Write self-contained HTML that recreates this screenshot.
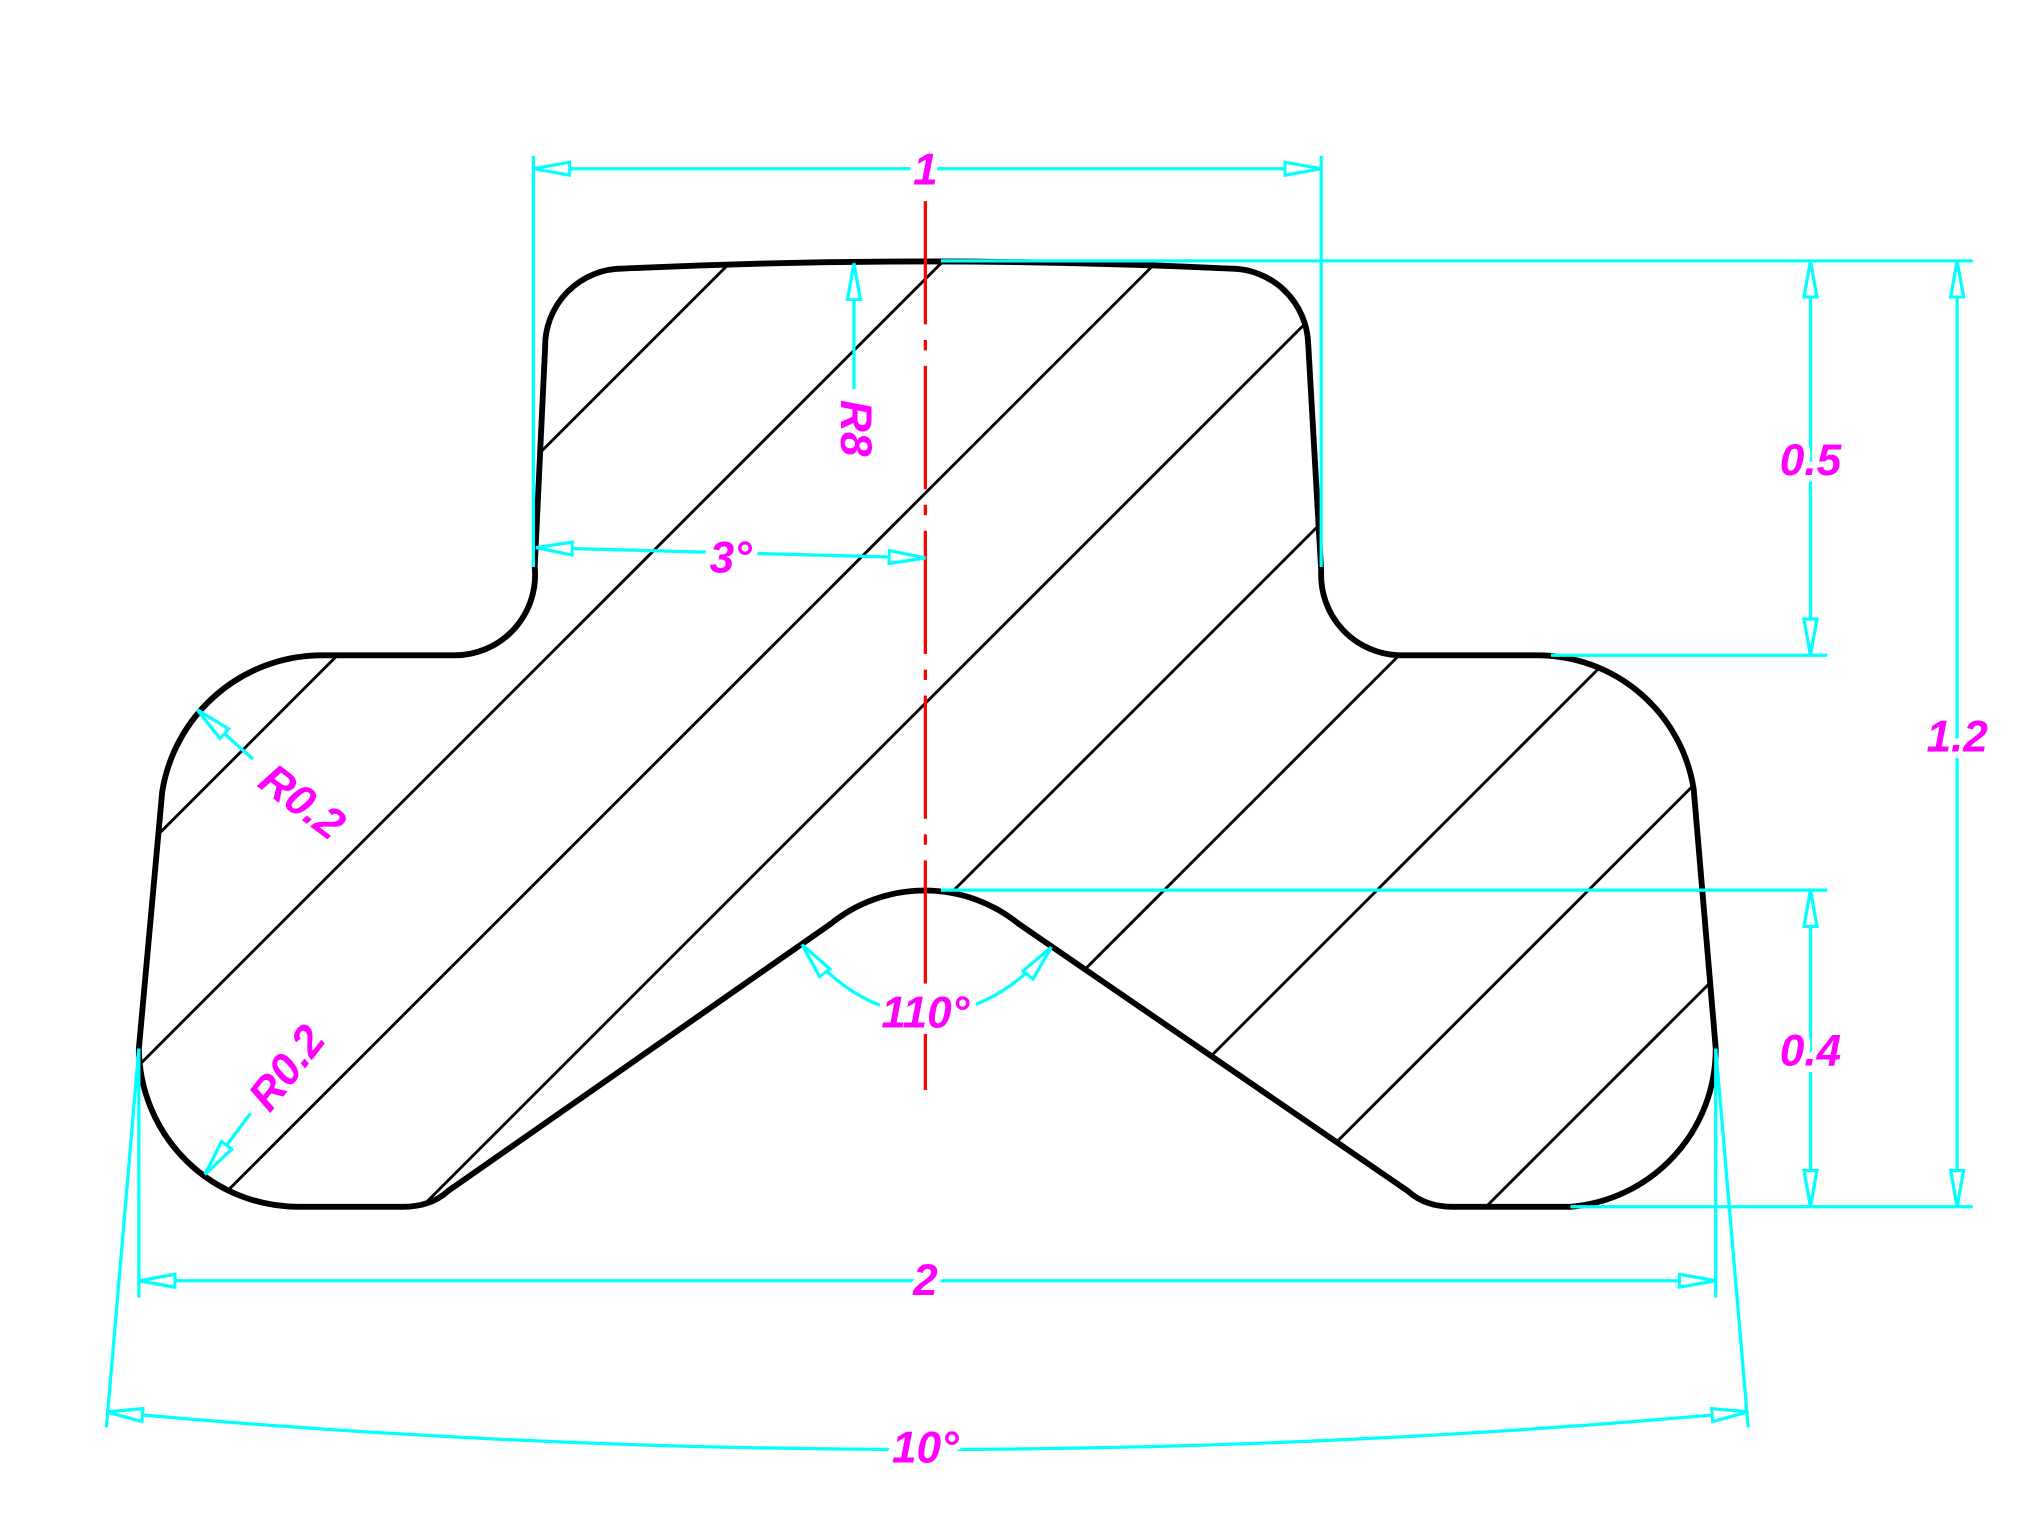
<!DOCTYPE html>
<html><head><meta charset="utf-8"><style>html,body{margin:0;padding:0;background:#fff;overflow:hidden;width:2035px;height:1526px}svg{display:block}</style></head><body>
<svg width="2035" height="1526" viewBox="0 0 1568 1176" preserveAspectRatio="none" xmlns="http://www.w3.org/2000/svg">
<defs>
<marker id="a" markerUnits="userSpaceOnUse" markerWidth="32" markerHeight="16" refX="29" refY="8" orient="auto-start-reverse">
<path d="M29,8 L1,3 L1,13 Z" fill="#fff" stroke="#00ffff" stroke-width="2.5"/>
</marker>
<clipPath id="c"><path d="M480,207 Q713,196 948,207 A60,60 0 0 1 1008,265 L1018,440 A62,62 0 0 0 1078,505 L1185,505 A122,122 0 0 1 1305,608 L1322,808 A122,122 0 0 1 1210,930 L1120,930 Q1098,930 1085,918 L785,712 A115,115 0 0 0 640,712 L345,918 Q332,930 310,930 L230,930 A123,123 0 0 1 107,808 L125,610 A125,125 0 0 1 245,505 L350,505 A62,62 0 0 0 412,437 L420,268 A60,60 0 0 1 480,207 Z"/></clipPath>
</defs>
<g clip-path="url(#c)" stroke="#000" stroke-width="2.2">
<line x1="0" y1="765" x2="765" y2="0"/>
<line x1="0" y1="928" x2="928" y2="0"/>
<line x1="0" y1="1093" x2="1093" y2="0"/>
<line x1="0" y1="1255" x2="1255" y2="0"/>
<line x1="200" y1="1221" x2="1421" y2="0"/>
<line x1="400" y1="1183" x2="1583" y2="0"/>
<line x1="600" y1="1147" x2="1747" y2="0"/>
<line x1="800" y1="1110" x2="1910" y2="0"/>
<line x1="1000" y1="1075" x2="2075" y2="0"/>
</g>
<path d="M480,207 Q713,196 948,207 A60,60 0 0 1 1008,265 L1018,440 A62,62 0 0 0 1078,505 L1185,505 A122,122 0 0 1 1305,608 L1322,808 A122,122 0 0 1 1210,930 L1120,930 Q1098,930 1085,918 L785,712 A115,115 0 0 0 640,712 L345,918 Q332,930 310,930 L230,930 A123,123 0 0 1 107,808 L125,610 A125,125 0 0 1 245,505 L350,505 A62,62 0 0 0 412,437 L420,268 A60,60 0 0 1 480,207 Z" fill="none" stroke="#000" stroke-width="4.5"/>
<line x1="713" y1="155" x2="713" y2="840" stroke="#ff0000" stroke-width="2.5" stroke-dasharray="95 12 8 12"/>
<g stroke="#00ffff" stroke-width="2.5" fill="none">
<line x1="411" y1="120" x2="411" y2="437"/>
<line x1="1018" y1="120" x2="1018" y2="437"/>
<line x1="411" y1="130" x2="1018" y2="130" marker-start="url(#a)" marker-end="url(#a)"/>
<line x1="658" y1="300" x2="658" y2="203" marker-end="url(#a)"/>
<line x1="413" y1="422" x2="713" y2="430" marker-start="url(#a)" marker-end="url(#a)"/>
<line x1="725" y1="201" x2="1520" y2="201"/>
<line x1="1195" y1="505" x2="1408" y2="505"/>
<line x1="1395" y1="201" x2="1395" y2="505" marker-start="url(#a)" marker-end="url(#a)"/>
<line x1="1508" y1="201" x2="1508" y2="930" marker-start="url(#a)" marker-end="url(#a)"/>
<line x1="725" y1="686" x2="1408" y2="686"/>
<line x1="1210" y1="930" x2="1520" y2="930"/>
<line x1="1395" y1="686" x2="1395" y2="930" marker-start="url(#a)" marker-end="url(#a)"/>
<line x1="195" y1="585" x2="152" y2="547" marker-end="url(#a)"/>
<line x1="193" y1="858" x2="158" y2="905" marker-end="url(#a)"/>
<path d="M618,728 Q660,780 713,782 Q768,780 810,730" marker-start="url(#a)" marker-end="url(#a)"/>
<line x1="107" y1="808" x2="107" y2="1000"/>
<line x1="1322" y1="808" x2="1322" y2="1000"/>
<line x1="107" y1="987" x2="1322" y2="987" marker-start="url(#a)" marker-end="url(#a)"/>
<line x1="107" y1="808" x2="82" y2="1100"/>
<line x1="1322" y1="808" x2="1347" y2="1100"/>
<path d="M82,1088 Q713,1146 1347,1088" marker-start="url(#a)" marker-end="url(#a)"/>
</g>
<g font-family="Liberation Sans, sans-serif" font-style="italic" font-weight="bold" font-size="34" fill="#ff00ff" text-anchor="middle" stroke="#fff" stroke-width="10" paint-order="stroke">
<text x="713" y="142">1</text>
<text x="563" y="441">3°</text>
<text x="1395" y="366">0.5</text>
<text x="1508" y="579">1.2</text>
<text x="1395" y="821">0.4</text>
<text x="713" y="998">2</text>
<text x="713" y="1127">10°</text>
<text x="713" y="792">110°</text>
<text transform="translate(648,330) rotate(90)">R8</text>
<text transform="translate(226,627) rotate(37)">R0.2</text>
<text transform="translate(230,830) rotate(-52)">R0.2</text>
</g>
</svg>
</body></html>
